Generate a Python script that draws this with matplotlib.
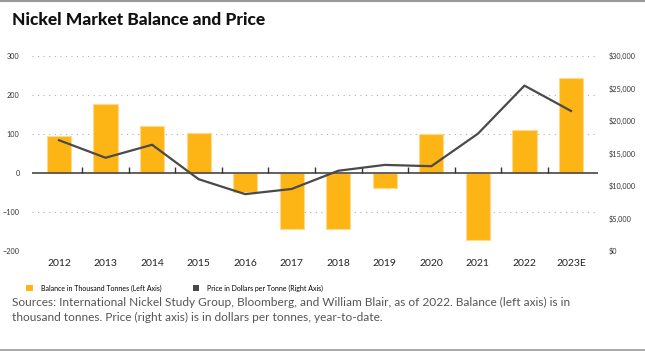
"""Nickel market balance (bars) and price (line) chart"""
import numpy as np
import matplotlib.pyplot as plt
from matplotlib.lines import Line2D
from matplotlib.patches import Patch
from matplotlib.ticker import FuncFormatter

years = ["2012", "2013", "2014", "2015", "2016", "2017", "2018", "2019",
         "2020", "2021", "2022", "2023E"]
balance = [93, 176, 120, 102, -49, -144, -144, -38, 100, -172, 109, 242]
price = [17000, 14300, 16300, 11000, 8700, 9500, 12300, 13200, 13000,
         18000, 25400, 21500]
left_ticks = [-200, -100, 0, 100, 200, 300]
right_ticks = [0, 5000, 10000, 15000, 20000, 25000, 30000]

BAR = "#FDB515"
LINE = "#4a4a4a"
GRID = "#b0b0b0"

plt.rcParams["font.family"] = ["Lato", "DejaVu Sans"]

W, H = 645, 352
fig = plt.figure(figsize=(W / 100, H / 100), dpi=100)


def px(x0, y0, x1, y1):
    # pixel box (top-left origin) -> figure fraction rect
    return [x0 / W, 1 - y1 / H, (x1 - x0) / W, (y1 - y0) / H]


ax = fig.add_axes(px(32, 55.7, 598, 250.7))
x = np.arange(len(years))
ax.bar(x, balance, width=0.52, color=BAR, edgecolor="#FDDA90",
       linewidth=0.8, zorder=2)
ax.set_xlim(-0.58, len(years) - 0.42)
ax.set_ylim(-200, 300)
ax.set_yticks(left_ticks)
for t in left_ticks:
    if t != 0:
        ax.axhline(t, color=GRID, lw=0.8, ls=(0, (1, 4)), zorder=1)
ax.axhline(0, color="#555555", lw=1.3, zorder=3)
# small separators standing on the zero line
ax.vlines(x[:-1] + 0.5, 0, 15, color="#333333", lw=1.0, zorder=3)

ax.set_xticks(x)
ax.set_xticklabels(years, fontsize=7.5, color="#222222")
ax.tick_params(axis="x", length=0, pad=6)
ax.tick_params(axis="y", length=0, pad=9, labelsize=5.2, labelcolor="#333333")
for s in ax.spines.values():
    s.set_visible(False)

ax2 = ax.twinx()
ax2.plot(x, price, color=LINE, lw=1.6, zorder=4)
ax2.set_ylim(0, 30000)
ax2.set_yticks(right_ticks)
ax2.yaxis.set_major_formatter(FuncFormatter(lambda v, p: f"${v:,.0f}"))
ax2.tick_params(axis="y", length=0, pad=8, labelsize=5.2, labelcolor="#333333")
for s in ax2.spines.values():
    s.set_visible(False)

# title and frame lines
fig.text(12 / W, 1 - 20 / H, "Nickel Market Balance and Price",
         fontsize=12.5, fontweight="black", color="#111111", va="center")
fig.add_artist(Line2D([0, 1], [1 - 1 / H, 1 - 1 / H], color="#9a9a9a", lw=1.5))
fig.add_artist(Line2D([0, 1], [1 - 349.5 / H, 1 - 349.5 / H],
                      color="#9a9a9a", lw=1.2))

handles = [Patch(facecolor=BAR, label="Balance in Thousand Tonnes (Left Axis)"),
           Patch(facecolor=LINE, label="Price in Dollars per Tonne (Right Axis)")]
fig.legend(handles=handles, loc="center left",
           bbox_to_anchor=(20 / W, 1 - 288 / H), ncol=2, frameon=False,
           fontsize=5, handlelength=0.9, handleheight=0.9,
           handletextpad=1.2, columnspacing=4.5)

fig.text(12 / W, 1 - 310 / H,
         "Sources: International Nickel Study Group, Bloomberg, and William "
         "Blair, as of 2022. Balance (left axis) is in\nthousand tonnes. "
         "Price (right axis) is in dollars per tonnes, year-to-date.",
         fontsize=8.6, color="#555555", va="center", linespacing=1.45)

fig.savefig("out.png", dpi=100)
